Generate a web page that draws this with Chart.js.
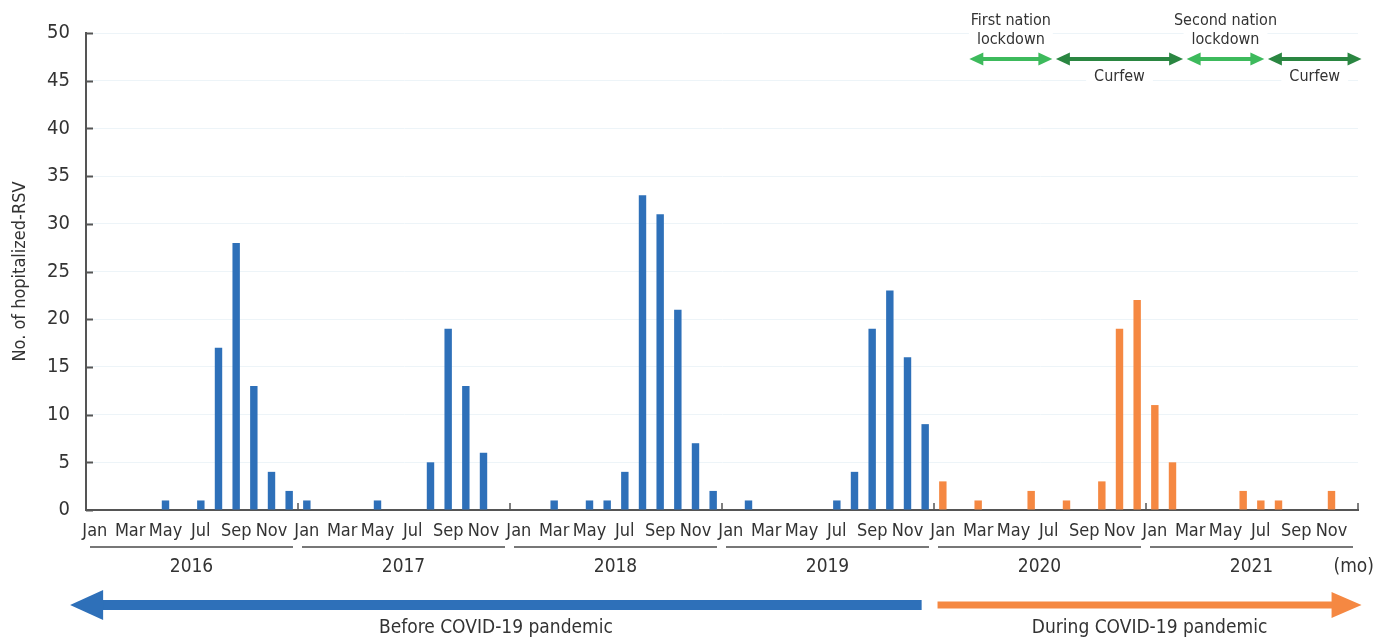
<!DOCTYPE html>
<html>
<head>
<meta charset="utf-8">
<script src="https://cdn.jsdelivr.net/npm/chart.js@4.4.1/dist/chart.umd.min.js"></script>
<style>
  html, body { margin: 0; padding: 0; background: #fff; }
  canvas { display: block; }
</style>
</head>
<body>
<canvas id="rsv" width="1374" height="640"></canvas>
<script>
const FONT = '"Liberation Sans Narrow", "DejaVu Sans Condensed", "Roboto", sans-serif';

const monthNames = ["Jan", "Feb", "Mar", "Apr", "May", "Jun", "Jul", "Aug", "Sep", "Oct", "Nov", "Dec"];
const years = ["2016", "2017", "2018", "2019", "2020", "2021"];

// monthly hospitalized RSV cases
const cases2016 = [0, 0, 0, 0, 1, 0, 1, 17, 28, 13, 4, 2];
const cases2017 = [1, 0, 0, 0, 1, 0, 0, 5, 19, 13, 6, 0];
const cases2018 = [0, 0, 1, 0, 1, 1, 4, 33, 31, 21, 7, 2];
const cases2019 = [0, 1, 0, 0, 0, 0, 1, 4, 19, 23, 16, 9];
const cases2020 = [3, 0, 1, 0, 0, 2, 0, 1, 0, 3, 19, 22];
const cases2021 = [11, 5, 0, 0, 0, 2, 1, 1, 0, 0, 2, 0];

const yTicks = [0, 5, 10, 15, 20, 25, 30, 35, 40, 45, 50];

// measure periods, as month positions on the 72-month axis
const periods = [
  { label: ["First nation", "lockdown"], from: 50, to: 54.7, color: "#3dba5c", above: true },
  { label: ["Curfew"], from: 54.9, to: 62.1, color: "#2a8641", above: false },
  { label: ["Second nation", "lockdown"], from: 62.3, to: 66.7, color: "#3dba5c", above: true },
  { label: ["Curfew"], from: 66.9, to: 72.2, color: "#2a8641", above: false },
];

const labels = [];
years.forEach(y => monthNames.forEach(m => labels.push(m + " " + y)));
const values = [].concat(cases2016, cases2017, cases2018, cases2019, cases2020, cases2021);
const BLUE = "#2e70b9";
const ORANGE = "#f58842";
const colors = values.map((v, i) => (i < 48 ? BLUE : ORANGE));

function arrowHead(ctx, tipX, y, dir, len, half) {
  ctx.beginPath();
  ctx.moveTo(tipX, y);
  ctx.lineTo(tipX - dir * len, y - half);
  ctx.lineTo(tipX - dir * len, y + half);
  ctx.closePath();
  ctx.fill();
}

const decorations = {
  id: "decorations",
  afterDraw(chart) {
    const { ctx, chartArea: { left, right, top, bottom }, scales: { x, y } } = chart;
    const step = (right - left) / labels.length;
    const mx = i => left + i * step;
    ctx.save();

    // inward y ticks
    ctx.strokeStyle = "#555";
    ctx.lineWidth = 2;
    yTicks.forEach(t => {
      const py = Math.round(y.getPixelForValue(t)) + 0.5;
      ctx.beginPath();
      ctx.moveTo(left, py);
      ctx.lineTo(left + 7, py);
      ctx.stroke();
    });
    // year boundary ticks on the x axis
    ctx.lineWidth = 1.5;
    for (let k = 1; k <= years.length; k++) {
      const px = mx(k * 12);
      ctx.beginPath();
      ctx.moveTo(px, bottom);
      ctx.lineTo(px, bottom - 7);
      ctx.stroke();
    }

    // year brackets + labels
    ctx.fillStyle = "#333";
    ctx.font = "19px " + FONT;
    ctx.textAlign = "center";
    ctx.textBaseline = "middle";
    years.forEach((yr, k) => {
      const a = mx(k * 12) + 4, b = mx((k + 1) * 12) - 5;
      ctx.strokeStyle = "#777";
      ctx.lineWidth = 2;
      ctx.beginPath();
      ctx.moveTo(a, 547);
      ctx.lineTo(b, 547);
      ctx.stroke();
      ctx.fillText(yr, (a + b) / 2, 567);
    });
    ctx.textAlign = "right";
    ctx.fillText("(mo)", 1374, 567);

    // before / during pandemic arrows
    const ay = 605;
    ctx.fillStyle = BLUE;
    ctx.fillRect(mx(0.9), ay - 5, mx(47.3) - mx(0.9), 10);
    arrowHead(ctx, mx(-0.9), ay, -1, 33, 15);
    ctx.fillStyle = ORANGE;
    ctx.fillRect(mx(48.2), ay - 3.5, mx(70.6) - mx(48.2), 7);
    arrowHead(ctx, mx(72.2), ay, 1, 30, 13);
    ctx.fillStyle = "#333";
    ctx.textAlign = "center";
    ctx.font = "19px " + FONT;
    ctx.fillText("Before COVID-19 pandemic", (mx(-0.9) + mx(47.3)) / 2, 628);
    ctx.fillText("During COVID-19 pandemic", (mx(48.2) + mx(72.2)) / 2, 628);

    // lockdown / curfew arrows
    const ly = 59;
    ctx.font = "16px " + FONT;
    periods.forEach(p => {
      const a = mx(p.from), b = mx(p.to), c = (a + b) / 2;
      ctx.fillStyle = p.color;
      ctx.fillRect(a + 10, ly - 2, b - a - 20, 4);
      arrowHead(ctx, a, ly, -1, 14, 6.5);
      arrowHead(ctx, b, ly, 1, 14, 6.5);
      const ys = p.above ? [21, 40] : [77];
      p.label.forEach((t, j) => {
        const w = ctx.measureText(t).width;
        ctx.fillStyle = "#fff";
        ctx.fillRect(c - w / 2 - 8, ys[j] - 9, w + 16, 18);
        ctx.fillStyle = "#333";
        ctx.fillText(t, c, ys[j]);
      });
    });
    ctx.restore();
  },
};

new Chart(document.getElementById("rsv"), {
  type: "bar",
  data: {
    labels: labels,
    datasets: [{
      data: values,
      backgroundColor: colors,
      borderWidth: 0,
      barPercentage: 0.42,
      categoryPercentage: 1,
    }],
  },
  options: {
    responsive: false,
    animation: false,
    devicePixelRatio: 1,
    layout: { padding: { top: 33, right: 16, left: 0, bottom: 0 } },
    plugins: { legend: { display: false }, tooltip: { enabled: false } },
    scales: {
      x: {
        grid: { display: false, drawTicks: false },
        border: { display: true, color: "#555", width: 2 },
        ticks: {
          autoSkip: false,
          maxRotation: 0,
          padding: 11,
          color: "#333",
          font: { family: FONT, size: 18 },
          callback: (v, i) => (i % 2 === 0 ? monthNames[i % 12] : ""),
        },
        afterFit: s => { s.height = 130; },
      },
      y: {
        min: 0,
        max: 50,
        grid: { color: "#edf4f8", lineWidth: 1, drawTicks: false },
        border: { display: true, color: "#555", width: 2 },
        ticks: {
          stepSize: 5,
          padding: 16,
          color: "#333",
          font: { family: FONT, size: 20 },
        },
        title: {
          display: true,
          text: "No. of hopitalized-RSV",
          color: "#333",
          font: { family: FONT, size: 18 },
          padding: { top: 10, bottom: 6 },
        },
        afterFit: s => { s.width = 86; },
      },
    },
  },
  plugins: [decorations],
});
</script>
</body>
</html>
